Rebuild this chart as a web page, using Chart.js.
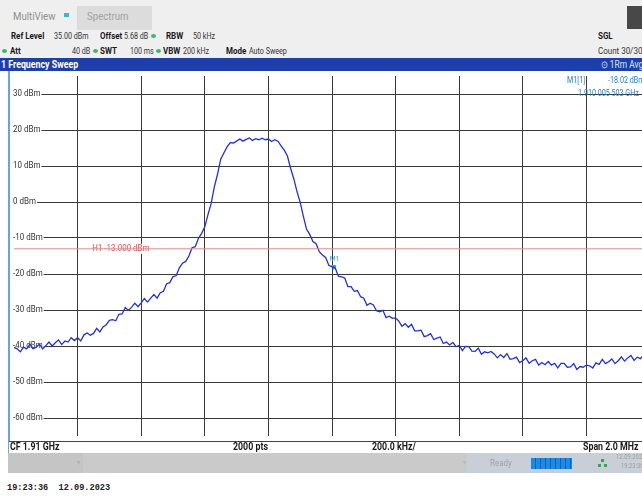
<!DOCTYPE html>
<html>
<head>
<meta charset="utf-8">
<title>Frequency Sweep</title>
<script src="https://cdn.jsdelivr.net/npm/chart.js@4.4.0/dist/chart.umd.min.js"></script>
<style>
  body { margin: 0; width: 642px; height: 498px; overflow: hidden; position: relative; background: #fff;
         font-family: Roboto, "Open Sans", sans-serif; }
  /* the analyzer UI font is narrow, so every label is squeezed a little */
  .t { position: absolute; white-space: nowrap; font-size: 8.5px; line-height: 12px; color: #333;
       transform: scaleX(0.84); transform-origin: 0 50%; }
  .b { font-weight: bold; color: #1a1a1a; font-size: 9.5px; }
  .dot { position: absolute; width: 5px; height: 4px; border-radius: 50%; background: #3fb66b; }
  #header { position: absolute; left: 0; top: 0; width: 642px; height: 58px; background: #efefef; }
  #sweepBar { position: absolute; left: 0; top: 58px; width: 642px; height: 13px; background: #1c3fa8; }
  #plot { position: absolute; left: 9px; top: 71px; width: 646px; height: 370px; }
  #leftEdge { position: absolute; left: 8px; top: 71px; width: 2px; height: 382px; background: #6aa3d6; }
  #cfBar { position: absolute; left: 9px; top: 441px; width: 640px; height: 11px; background: #fff;
           border-top: 1px solid #444; border-bottom: 1px solid #7fb2dd; }
  #cfBar .t { font-size: 10.5px; top: -1px; }
  #status { position: absolute; left: 8px; top: 453px; width: 640px; height: 20px; background: #cacaca; }
  .mk { color: #1f7cc2; font-size: 8.5px; }
</style>
</head>
<body>
<div id="header">
  <div class="t" style="left:13px;top:10px;font-size:11.5px;color:#8e8e8e">MultiView</div>
  <div style="position:absolute;left:64px;top:13px;width:5px;height:4px;background:#33b9e2"></div>
  <div style="position:absolute;left:77px;top:6px;width:75px;height:24px;background:#dcdcdc"></div>
  <div class="t" style="left:87px;top:10px;font-size:11.5px;color:#a2a2a2">Spectrum</div>
  <div style="position:absolute;left:627px;top:6px;width:20px;height:23px;background:#484848"></div>

  <div class="t b" style="left:11px;top:30px">Ref Level</div>
  <div class="t" style="left:54px;top:30px">35.00 dBm</div>
  <div class="t b" style="left:100px;top:30px">Offset</div>
  <div class="t" style="left:124px;top:30px">5.68 dB</div>
  <div class="dot" style="left:151px;top:34px"></div>
  <div class="t b" style="left:166px;top:30px">RBW</div>
  <div class="t" style="left:193px;top:30px">50 kHz</div>
  <div class="t b" style="left:598px;top:30px">SGL</div>

  <div class="dot" style="left:2px;top:49px"></div>
  <div class="t b" style="left:10px;top:45px">Att</div>
  <div class="t" style="left:72px;top:45px">40 dB</div>
  <div class="dot" style="left:93px;top:49px"></div>
  <div class="t b" style="left:100px;top:45px">SWT</div>
  <div class="t" style="left:130px;top:45px">100 ms</div>
  <div class="dot" style="left:156px;top:49px"></div>
  <div class="t b" style="left:163px;top:45px">VBW</div>
  <div class="t" style="left:183px;top:45px">200 kHz</div>
  <div class="t b" style="left:226px;top:45px">Mode</div>
  <div class="t" style="left:249px;top:45px">Auto Sweep</div>
  <div class="t" style="left:598px;top:45px;font-size:9.5px">Count 30/30</div>
</div>

<div id="sweepBar">
  <div class="t b" style="left:1px;top:1px;color:#fff;font-size:10.5px">1 Frequency Sweep</div>
  <div class="t" style="left:601px;top:1px;color:#d6e4ff;font-size:10px">&#8857; 1Rm Avg</div>
</div>

<div id="plot"><canvas id="chart-sweep"></canvas></div>
<div id="leftEdge"></div>

<div class="t mk" style="left:567px;top:74px">M1[1]</div>
<div class="t mk" style="left:608px;top:74px">-18.02 dBm</div>
<div class="t mk" style="left:578px;top:87px">1.910 005 503 GHz</div>

<div id="cfBar">
  <div class="t b" style="left:1px">CF 1.91 GHz</div>
  <div class="t b" style="left:224px">2000 pts</div>
  <div class="t b" style="left:363px">200.0 kHz/</div>
  <div class="t b" style="left:574px">Span 2.0 MHz</div>
</div>

<div id="status">
  <div style="position:absolute;left:0;top:0;width:75px;height:20px;background:#c5c5c5"></div>
  <div class="t" style="left:69px;top:4px;color:#b0b0b0;font-size:8px">&#9662;</div>
  <div class="t" style="left:455px;top:4px;color:#b8b8b8;font-size:8px">&#9662;</div>
  <div style="position:absolute;left:459px;top:0;width:181px;height:20px;background:#c8cfd7"></div>
  <div class="t" style="left:482px;top:4px;color:#9aa3ad;font-size:9.5px">Ready</div>
  <div style="position:absolute;left:523px;top:5px;width:41px;height:11px;background:repeating-linear-gradient(90deg,#1f8ae6 0,#1f8ae6 4px,#0d5fb0 4px,#0d5fb0 5px)"></div>
  <div style="position:absolute;left:593px;top:6px;width:3px;height:3px;background:#3aa35a"></div>
  <div style="position:absolute;left:590px;top:11px;width:3px;height:3px;background:#3aa35a"></div>
  <div style="position:absolute;left:596px;top:11px;width:3px;height:3px;background:#3aa35a"></div>
  <div class="t" style="left:608px;top:0px;color:#9aa0a8;font-size:7px;line-height:9px">12.09.2023</div>
  <div class="t" style="left:613px;top:9px;color:#9aa0a8;font-size:7px;line-height:9px">19:23:36</div>
</div>

<div style="position:absolute;left:7px;top:482px;font-family:'Liberation Mono',monospace;font-size:8.6px;line-height:12px;color:#222;font-weight:bold">19:23:36&nbsp;&nbsp;12.09.2023</div>

<script>
// Sweep grid: 10 kHz steps across the 2 MHz span, offsets relative to CF 1.91 GHz
const SWEEP_START_KHZ = -1000;
const SWEEP_STEP_KHZ = 10;

// Trace levels in dBm (1Rm Avg trace, noise included)
const sweepLevels = [
  -40.4, -40.8, -41.6, -40.3, -40.8, -39.5, -40.8, -40.3, -39.5, -40.8,
  -39.9, -38.9, -40.0, -39.1, -38.3, -39.6, -38.6, -38.9, -37.7, -38.5,
  -37.7, -38.6, -36.9, -36.4, -37.0, -36.5, -35.1, -36.1, -34.7, -34.1,
  -32.9, -32.7, -33.0, -31.2, -31.1, -29.3, -30.1, -29.2, -28.1, -29.1,
  -28.0, -26.8, -27.8, -26.7, -25.7, -26.7, -25.2, -24.8, -22.7, -22.4,
  -20.7, -20.5, -18.3, -17.0, -16.5, -15.0, -12.7, -12.4, -10.1, -8.7,
  -6.9, -3.5, -0.4, 4.2, 7.7, 11.9, 13.6, 15.3, 16.5, 16.4,
  16.9, 17.5, 16.9, 17.4, 17.8, 17.1, 17.6, 17.3, 17.7, 17.3,
  17.5, 16.8, 17.3, 16.9, 15.6, 14.4, 12.7, 9.3, 6.4, 2.9,
  -0.1, -4.0, -7.6, -9.0, -11.0, -11.6, -13.8, -14.7, -15.4, -17.6,
  -18.0, -18.3, -20.6, -20.8, -21.1, -23.5, -23.5, -24.8, -24.6, -26.3,
  -26.7, -28.7, -28.1, -28.6, -30.2, -30.5, -30.1, -32.1, -31.7, -32.3,
  -32.2, -33.1, -34.5, -33.8, -34.8, -34.0, -35.8, -35.8, -35.6, -37.4,
  -37.1, -36.6, -38.2, -37.8, -37.5, -39.3, -38.9, -39.7, -39.0, -40.2,
  -39.8, -41.3, -40.1, -40.2, -41.4, -41.5, -40.6, -42.3, -41.6, -41.9,
  -41.5, -42.2, -43.3, -42.4, -43.2, -42.1, -43.7, -43.5, -43.1, -44.6,
  -44.1, -43.3, -44.8, -44.1, -43.7, -45.3, -44.6, -45.2, -44.3, -45.3,
  -44.8, -46.1, -44.8, -44.8, -45.9, -45.8, -44.9, -46.5, -45.7, -45.9,
  -45.3, -45.5, -46.1, -44.7, -45.1, -43.7, -44.9, -44.4, -43.6, -44.9,
  -44.1, -43.0, -44.2, -43.3, -42.6, -44.0, -43.1, -43.5, -42.4, -43.2,
  -42.6
];

// Grid divisions and level labels
const xGridKHz = [-800, -600, -400, -200, 0, 200, 400, 600, 800];
const yGridDbm = [30, 20, 10, 0, -10, -20, -30, -40, -50, -60];
const LEVEL_MIN = -65;
const LEVEL_MAX = 35;

// Display line H1 and marker M1
const h1Level = -13;
const h1Label = "H1 -13.000 dBm";
const m1FreqKHz = 5.503;
const m1Level = -18.02;

const tracePoints = sweepLevels.map(function(v, i) {
  return { x: SWEEP_START_KHZ + i * SWEEP_STEP_KHZ, y: v };
});

const FONT = 'Roboto, "Open Sans", sans-serif';
const SQUEEZE = 0.84;

// draws narrow text the same way the html labels are squeezed
function narrowText(ctx, txt, x, y) {
  ctx.save();
  ctx.translate(x, y);
  ctx.scale(SQUEEZE, 1);
  ctx.fillText(txt, 0, 0);
  ctx.restore();
}

// Level labels sit on the grid lines with a white patch behind them; trace is drawn over them
const analyzerLabels = {
  id: "analyzerLabels",
  beforeDatasetsDraw: function(chart) {
    const ctx = chart.ctx;
    const y = chart.scales.y;
    const x = chart.scales.x;
    ctx.save();
    ctx.font = "9.5px " + FONT;
    ctx.textBaseline = "middle";
    yGridDbm.forEach(function(v) {
      const py = y.getPixelForValue(v);
      const txt = v + " dBm";
      const w = ctx.measureText(txt).width * SQUEEZE;
      ctx.fillStyle = "#fff";
      ctx.fillRect(0, py - 5, w + 5, 10);
      ctx.fillStyle = "#333";
      narrowText(ctx, txt, 4, py);
    });
    // H1 label
    const hy = y.getPixelForValue(h1Level);
    const hw = ctx.measureText(h1Label).width * SQUEEZE;
    const hx = x.getPixelForValue(-754);
    ctx.fillStyle = "#fff";
    ctx.fillRect(hx - 2, hy - 5, hw + 4, 10);
    ctx.fillStyle = "#d9534f";
    narrowText(ctx, h1Label, hx, hy);
    ctx.restore();
  },
  afterDatasetsDraw: function(chart) {
    const ctx = chart.ctx;
    const px = chart.scales.x.getPixelForValue(m1FreqKHz);
    const py = chart.scales.y.getPixelForValue(m1Level);
    ctx.save();
    ctx.font = "8px " + FONT;
    ctx.fillStyle = "#2aa6cf";
    ctx.textBaseline = "bottom";
    narrowText(ctx, "M1", px - 4, py - 4);
    ctx.restore();
  }
};

new Chart(document.getElementById("chart-sweep").getContext("2d"), {
  type: "line",
  data: {
    datasets: [
      {
        label: "H1",
        data: [{ x: SWEEP_START_KHZ, y: h1Level }, { x: -SWEEP_START_KHZ, y: h1Level }],
        borderColor: "#e58a8a",
        borderWidth: 1,
        pointRadius: 0
      },
      {
        label: "Trace 1",
        data: tracePoints,
        borderColor: "#2233cc",
        borderWidth: 1.3,
        pointRadius: 0,
        tension: 0
      },
      {
        label: "M1",
        data: [{ x: m1FreqKHz, y: m1Level }],
        showLine: false,
        pointStyle: "triangle",
        rotation: 180,
        pointRadius: 2.5,
        backgroundColor: "#2aa6cf",
        borderColor: "#2aa6cf"
      }
    ]
  },
  options: {
    responsive: true,
    maintainAspectRatio: false,
    animation: false,
    layout: { padding: 0 },
    plugins: { legend: { display: false }, tooltip: { enabled: false } },
    scales: {
      x: {
        type: "linear",
        min: SWEEP_START_KHZ,
        max: -SWEEP_START_KHZ,
        afterBuildTicks: function(s) { s.ticks = xGridKHz.map(function(v) { return { value: v }; }); },
        ticks: { display: false },
        border: { display: false },
        grid: { color: "#3a3a3a", lineWidth: 1, drawTicks: false }
      },
      y: {
        min: LEVEL_MIN,
        max: LEVEL_MAX,
        afterBuildTicks: function(s) { s.ticks = yGridDbm.map(function(v) { return { value: v }; }); },
        ticks: { display: false },
        border: { display: false },
        grid: { color: "#3a3a3a", lineWidth: 1, drawTicks: false }
      }
    }
  },
  plugins: [analyzerLabels]
});
</script>
</body>
</html>
